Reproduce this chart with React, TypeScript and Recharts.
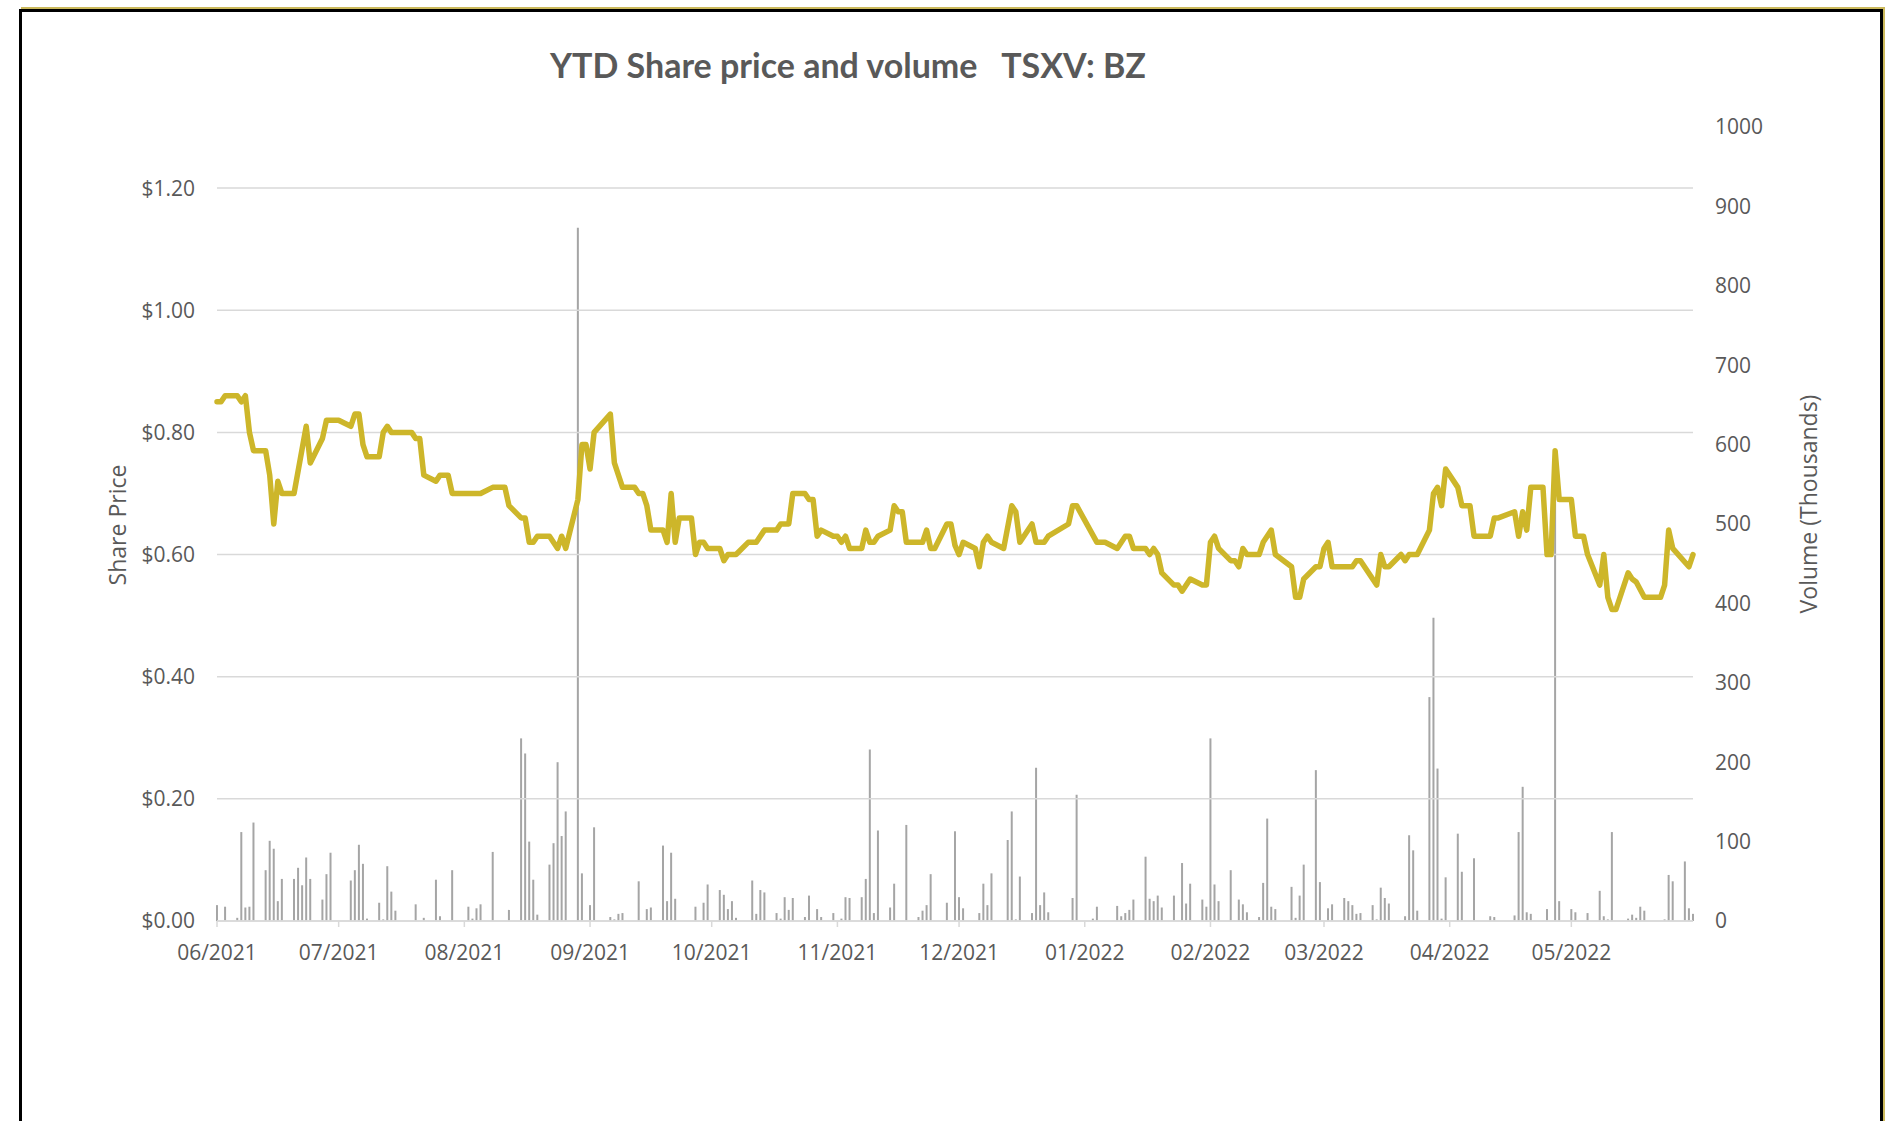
import React from 'react';
import { ComposedChart, Bar, Line, XAxis, YAxis, ReferenceLine } from 'recharts';

// x values are days counted from 1 June 2021
const priceDays = [
  0, 1, 2, 5, 6, 7, 8, 9, 12, 13, 14, 15, 16, 19, 22, 23, 26, 27, 30, 33, 34, 35, 36, 37, 40, 41, 42, 43, 48, 49,
  50, 51, 54, 55, 57, 58, 65, 68, 71, 72, 75, 76, 77, 78, 79, 82, 84, 85, 86, 89, 90, 91, 92, 93, 97, 98, 100, 103, 104, 105,
  106, 107, 110, 111, 112, 113, 114, 117, 118, 119, 120, 121, 124, 125, 126, 128, 131, 133, 135, 138, 139, 141, 142, 145, 146, 147, 148, 149, 152, 153,
  154, 155, 156, 159, 160, 161, 162, 163, 166, 167, 168, 169, 170, 174, 175, 176, 177, 180, 181, 182, 183, 184, 187, 188, 189, 190, 191, 194, 196, 197,
  198, 201, 202, 204, 205, 210, 211, 212, 217, 219, 222, 224, 225, 226, 229, 230, 231, 232, 233, 236, 237, 238, 240, 243, 244, 245, 246, 247, 250, 251,
  252, 253, 254, 257, 258, 260, 261, 265, 266, 267, 268, 271, 272, 273, 274, 275, 280, 281, 282, 286, 287, 288, 289, 292, 293, 294, 296, 299, 300, 301,
  302, 303, 306, 307, 309, 310, 314, 315, 316, 320, 321, 322, 323, 324, 327, 328, 329, 330, 331, 334, 335, 337, 338, 341, 342, 343, 344, 345, 348, 349,
  350, 352, 356, 357, 358, 359, 363, 364,
];
const prices = [
  0.85, 0.85, 0.86, 0.86, 0.85, 0.86, 0.80, 0.77, 0.77, 0.73, 0.65, 0.72, 0.70, 0.70, 0.81, 0.75, 0.79, 0.82, 0.82, 0.81, 0.83, 0.83, 0.78, 0.76, 0.76, 0.80, 0.81, 0.80, 0.80, 0.79,
  0.79, 0.73, 0.72, 0.73, 0.73, 0.70, 0.70, 0.71, 0.71, 0.68, 0.66, 0.66, 0.62, 0.62, 0.63, 0.63, 0.61, 0.63, 0.61, 0.69, 0.78, 0.78, 0.74, 0.80, 0.83, 0.75, 0.71, 0.71, 0.70, 0.70,
  0.68, 0.64, 0.64, 0.62, 0.70, 0.62, 0.66, 0.66, 0.60, 0.62, 0.62, 0.61, 0.61, 0.59, 0.60, 0.60, 0.62, 0.62, 0.64, 0.64, 0.65, 0.65, 0.70, 0.70, 0.69, 0.69, 0.63, 0.64, 0.63, 0.63,
  0.62, 0.63, 0.61, 0.61, 0.64, 0.62, 0.62, 0.63, 0.64, 0.68, 0.67, 0.67, 0.62, 0.62, 0.64, 0.61, 0.61, 0.65, 0.65, 0.615, 0.60, 0.62, 0.61, 0.58, 0.62, 0.63, 0.62, 0.61, 0.68, 0.67,
  0.62, 0.65, 0.62, 0.62, 0.63, 0.65, 0.68, 0.68, 0.62, 0.62, 0.61, 0.63, 0.63, 0.61, 0.61, 0.60, 0.61, 0.60, 0.57, 0.55, 0.55, 0.54, 0.56, 0.55, 0.55, 0.62, 0.63, 0.61, 0.59, 0.59,
  0.58, 0.61, 0.60, 0.60, 0.62, 0.64, 0.60, 0.58, 0.53, 0.53, 0.56, 0.58, 0.58, 0.61, 0.62, 0.58, 0.58, 0.59, 0.59, 0.55, 0.60, 0.58, 0.58, 0.60, 0.59, 0.60, 0.60, 0.64, 0.70, 0.71,
  0.68, 0.74, 0.71, 0.68, 0.68, 0.63, 0.63, 0.66, 0.66, 0.67, 0.63, 0.67, 0.64, 0.71, 0.71, 0.60, 0.60, 0.77, 0.69, 0.69, 0.63, 0.63, 0.60, 0.55, 0.60, 0.53, 0.51, 0.51, 0.57, 0.56,
  0.555, 0.53, 0.53, 0.55, 0.64, 0.61, 0.58, 0.60,
];

const volumeDays = [
  0, 2, 5, 6, 7, 8, 9, 12, 13, 14, 15, 16, 19, 20, 21, 22, 23, 26, 27, 28, 33, 34, 35, 36, 37, 40, 41, 42, 43, 44,
  49, 51, 54, 55, 58, 62, 63, 64, 65, 68, 72, 75, 76, 77, 78, 79, 82, 83, 84, 85, 86, 89, 90, 92, 93, 97, 98, 99, 100, 104,
  106, 107, 110, 111, 112, 113, 118, 120, 121, 124, 125, 126, 127, 128, 132, 133, 134, 135, 138, 139, 140, 141, 142, 145, 146, 148, 149, 152, 154, 155,
  156, 159, 160, 161, 162, 163, 166, 167, 170, 173, 174, 175, 176, 180, 182, 183, 184, 188, 189, 190, 191, 195, 196, 197, 198, 201, 202, 203, 204, 205,
  211, 212, 216, 217, 222, 223, 224, 225, 226, 229, 230, 231, 232, 233, 236, 238, 239, 240, 243, 244, 245, 246, 247, 250, 252, 253, 254, 257, 258, 259,
  260, 261, 265, 266, 267, 268, 271, 272, 274, 275, 278, 279, 280, 281, 282, 285, 286, 287, 288, 289, 293, 294, 295, 296, 299, 300, 301, 302, 303, 306,
  307, 310, 314, 315, 320, 321, 322, 323, 324, 328, 330, 331, 334, 335, 338, 341, 342, 343, 344, 348, 349, 350, 351, 352, 357, 358, 359, 362, 363, 364,
];
const volumes = [
  20, 18, 4, 112, 17, 18, 124, 64, 101, 91, 25, 53, 53, 67, 45, 80, 53, 27, 59, 86, 51, 64, 96, 72, 3, 23, 2, 69, 37, 13,
  21, 4, 52, 6, 64, 18, 3, 16, 21, 87, 14, 230, 211, 100, 52, 8, 71, 98, 200, 107, 138, 873, 60, 20, 118, 5, 2, 9, 10, 50,
  15, 17, 95, 25, 86, 28, 18, 23, 46, 39, 33, 15, 25, 4, 51, 9, 39, 36, 10, 3, 30, 14, 29, 5, 32, 15, 5, 10, 3, 30,
  29, 30, 53, 216, 10, 114, 17, 47, 121, 5, 13, 20, 59, 23, 113, 30, 16, 10, 47, 20, 60, 102, 138, 2, 56, 10, 193, 20, 36, 11,
  29, 159, 3, 18, 19, 6, 10, 14, 27, 81, 28, 25, 32, 17, 32, 73, 22, 47, 27, 18, 230, 46, 25, 64, 27, 21, 11, 5, 48, 129,
  18, 15, 43, 4, 32, 71, 190, 49, 16, 21, 29, 25, 20, 9, 10, 20, 2, 42, 29, 22, 6, 108, 89, 13, 282, 382, 192, 3, 55, 110,
  62, 79, 6, 5, 7, 112, 169, 11, 9, 15, 560, 25, 15, 11, 10, 38, 6, 2, 112, 3, 8, 4, 18, 13, 2, 58, 50, 75, 16, 9,
];

const monthTicks = [0, 30, 61, 92, 122, 153, 183, 214, 245, 273, 304, 334];
const monthLabels = ['06/2021', '07/2021', '08/2021', '09/2021', '10/2021', '11/2021', '12/2021', '01/2022', '02/2022', '03/2022', '04/2022', '05/2022'];
const priceTicks = [0, 0.2, 0.4, 0.6, 0.8, 1.0, 1.2];
const volumeTicks = [0, 100, 200, 300, 400, 500, 600, 700, 800, 900, 1000];

const allDays = Array.from(new Set([...priceDays, ...volumeDays])).sort((a, b) => a - b);
const rows = allDays.map((day) => {
  const pi = priceDays.indexOf(day);
  const vi = volumeDays.indexOf(day);
  return { day, price: pi >= 0 ? prices[pi] : null, vol: vi >= 0 ? volumes[vi] : null };
});

const textGray = '#595959';
const tickFont = { fill: textGray, fontSize: 21, fontFamily: 'Open Sans' };

export default function App() {
  return (
    <div style={{ position: 'absolute', left: 0, top: 0, width: 1894, height: 1121, overflow: 'hidden', background: '#fff' }}>
      <div
        style={{
          position: 'absolute', left: 19, top: 9, width: 1864, height: 1300,
          border: '3px solid #000', boxSizing: 'border-box', boxShadow: '2px -2px 0 #cbb95c',
        }}
      />
      <div
        style={{
          position: 'absolute', left: 550, top: 43, whiteSpace: 'pre', color: textGray,
          fontFamily: 'Lato', fontWeight: 700, fontSize: 34, lineHeight: '44px',
        }}
      >
        {'YTD Share price and volume   TSXV: BZ'}
      </div>
      <div
        style={{
          position: 'absolute', left: 117, top: 525, transform: 'translate(-50%, -50%) rotate(-90deg)',
          whiteSpace: 'nowrap', color: textGray, fontFamily: 'Open Sans', fontSize: 23,
        }}
      >
        Share Price
      </div>
      <div
        style={{
          position: 'absolute', left: 1808, top: 504, transform: 'translate(-50%, -50%) rotate(-90deg)',
          whiteSpace: 'nowrap', color: textGray, fontFamily: 'Open Sans', fontSize: 23,
        }}
      >
        Volume (Thousands)
      </div>
      <div style={{ position: 'absolute', left: 0, top: 0 }}>
        <ComposedChart width={1894} height={1121} data={rows} margin={{ top: 127, right: 101, bottom: 140, left: 117 }}>
          {/* gridlines only at the share price ticks */}
          {priceTicks.map((t) => (
            <ReferenceLine key={t} yAxisId="left" y={t} stroke="#d9d9d9" strokeWidth={1.5} />
          ))}
          <XAxis
            dataKey="day"
            type="number"
            domain={[0, 364]}
            ticks={monthTicks}
            interval={0}
            tickFormatter={(v) => monthLabels[monthTicks.indexOf(v)]}
            height={60}
            stroke="#d9d9d9"
            strokeWidth={1.5}
            tickSize={6}
            tickMargin={18}
            tick={tickFont}
          />
          <YAxis
            yAxisId="left"
            orientation="left"
            width={100}
            domain={[0, 1.3]}
            ticks={priceTicks}
            interval={0}
            tickFormatter={(v) => `$${v.toFixed(2)}`}
            axisLine={false}
            tickLine={false}
            tickSize={0}
            tickMargin={22}
            tick={tickFont}
          />
          <YAxis
            yAxisId="right"
            orientation="right"
            width={100}
            domain={[0, 1000]}
            ticks={volumeTicks}
            interval={0}
            axisLine={false}
            tickLine={false}
            tickSize={0}
            tickMargin={22}
            tick={tickFont}
          />
          <Bar yAxisId="right" dataKey="vol" fill="#a5a5a5" barSize={2} isAnimationActive={false} />
          <Line
            yAxisId="left"
            dataKey="price"
            type="linear"
            stroke="#cdb62a"
            strokeWidth={5.5}
            strokeLinejoin="round"
            strokeLinecap="round"
            dot={false}
            activeDot={false}
            connectNulls
            isAnimationActive={false}
          />
        </ComposedChart>
      </div>
    </div>
  );
}
